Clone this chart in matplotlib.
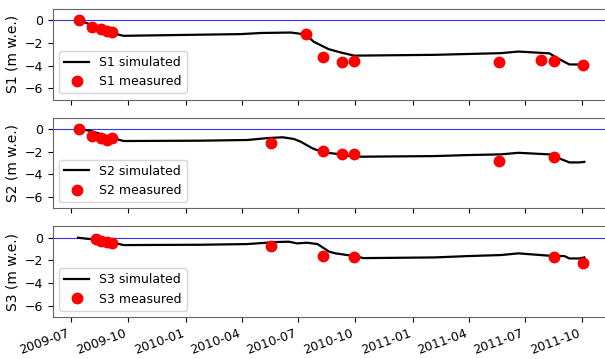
import matplotlib
matplotlib.use('Agg')
import matplotlib.pyplot as plt
import matplotlib.dates as mdates
import pandas as pd

plt.rcParams['font.size'] = 9

# simulated balance, knots
s1_sim_dates = ['2009-07-12', '2009-07-27', '2009-08-17', '2009-09-07', '2009-09-23',
                '2010-01-25', '2010-03-30', '2010-05-02', '2010-06-19', '2010-07-13',
                '2010-07-26', '2010-08-19', '2010-09-08', '2010-09-29', '2011-02-05',
                '2011-05-23', '2011-06-20', '2011-08-09', '2011-08-23', '2011-09-10',
                '2011-10-01']
s1_sim = [0.0, -0.27, -0.8, -1.16, -1.37,
          -1.27, -1.22, -1.12, -1.08, -1.25,
          -1.9, -2.55, -2.85, -3.12, -3.05,
          -2.9, -2.76, -2.92, -3.38, -3.9,
          -3.9]

s2_sim_dates = ['2009-07-12', '2009-07-31', '2009-08-17', '2009-09-07', '2009-09-23',
                '2010-01-25', '2010-04-10', '2010-05-13', '2010-06-06', '2010-06-24',
                '2010-07-05', '2010-07-24', '2010-08-07', '2010-08-17', '2010-09-08',
                '2010-09-29', '2011-02-05', '2011-03-31', '2011-05-23', '2011-06-20',
                '2011-08-09', '2011-08-25', '2011-09-10', '2011-09-26', '2011-10-04']
s2_sim = [0.0, -0.15, -0.44, -0.82, -1.06,
          -1.03, -0.97, -0.8, -0.73, -0.88,
          -1.12, -1.71, -2.0, -2.1, -2.24,
          -2.45, -2.39, -2.3, -2.24, -2.1,
          -2.24, -2.6, -2.95, -2.95, -2.9]

s3_sim_dates = ['2009-07-12', '2009-07-31', '2009-08-17', '2009-09-07', '2009-09-23',
                '2010-01-25', '2010-04-10', '2010-05-27', '2010-06-16', '2010-06-29',
                '2010-07-15', '2010-08-01', '2010-08-20', '2010-08-30', '2010-09-29',
                '2010-10-14', '2011-02-05', '2011-03-31', '2011-05-23', '2011-06-20',
                '2011-08-09', '2011-09-02', '2011-09-10', '2011-09-26', '2011-10-04']
s3_sim = [0.0, -0.12, -0.12, -0.44, -0.65,
          -0.62, -0.56, -0.38, -0.35, -0.5,
          -0.44, -0.56, -1.24, -1.38, -1.62,
          -1.8, -1.74, -1.62, -1.53, -1.38,
          -1.59, -1.62, -1.83, -1.83, -1.74]

# measured balance
s1_meas_dates = ['2009-07-13', '2009-08-04', '2009-08-17', '2009-08-27', '2009-09-04',
                 '2010-07-14', '2010-08-10', '2010-09-09', '2010-09-28', '2011-05-20',
                 '2011-07-26', '2011-08-16', '2011-10-02']
s1_meas = [0.0, -0.62, -0.8, -0.95, -1.0,
           -1.22, -3.24, -3.65, -3.62, -3.65,
           -3.53, -3.56, -3.92]

s2_meas_dates = ['2009-07-13', '2009-08-04', '2009-08-17', '2009-08-27', '2009-09-04',
                 '2010-05-18', '2010-08-10', '2010-09-09', '2010-09-28', '2011-05-20',
                 '2011-08-16']
s2_meas = [0.0, -0.59, -0.77, -0.95, -0.83,
           -1.21, -1.95, -2.24, -2.18, -2.83,
           -2.5]

s3_meas_dates = ['2009-08-10', '2009-08-18', '2009-08-27', '2009-09-04',
                 '2010-05-18', '2010-08-10', '2010-09-28', '2011-08-16', '2011-10-02']
s3_meas = [-0.15, -0.27, -0.38, -0.47,
           -0.74, -1.62, -1.68, -1.68, -2.27]

stakes = [
    ('S1', s1_sim_dates, s1_sim, s1_meas_dates, s1_meas),
    ('S2', s2_sim_dates, s2_sim, s2_meas_dates, s2_meas),
    ('S3', s3_sim_dates, s3_sim, s3_meas_dates, s3_meas),
]

fig, axes = plt.subplots(3, 1, sharex=True, figsize=(6.05, 3.59), dpi=100)

for ax, (name, sd, sv, md, mv) in zip(axes, stakes):
    ax.axhline(0, color='#3333ff', lw=0.8)
    ax.plot(pd.to_datetime(sd), sv, color='black', lw=1.6, label=name + ' simulated')
    ax.plot(pd.to_datetime(md), mv, 'o', color='red', ms=7.5, label=name + ' measured')
    ax.set_ylim(-7, 1)
    ax.set_yticks([0, -2, -4, -6])
    ax.set_ylabel(name + ' (m w.e.)', fontsize=10)
    ax.legend(loc='lower left')
    for sp in ax.spines.values():
        sp.set_color('#666666')

ax = axes[-1]
ax.set_xlim(pd.Timestamp('2009-06-02'), pd.Timestamp('2011-11-16'))
ax.xaxis.set_major_locator(mdates.MonthLocator(bymonth=[1, 4, 7, 10]))
ax.xaxis.set_major_formatter(mdates.DateFormatter('%Y-%m'))
fig.autofmt_xdate(rotation=20)
# autofmt_xdate moves the bottom, so set the margins afterwards
fig.subplots_adjust(left=0.088, right=1.01, top=0.975, bottom=0.117, hspace=0.2)

fig.savefig('out.png')
